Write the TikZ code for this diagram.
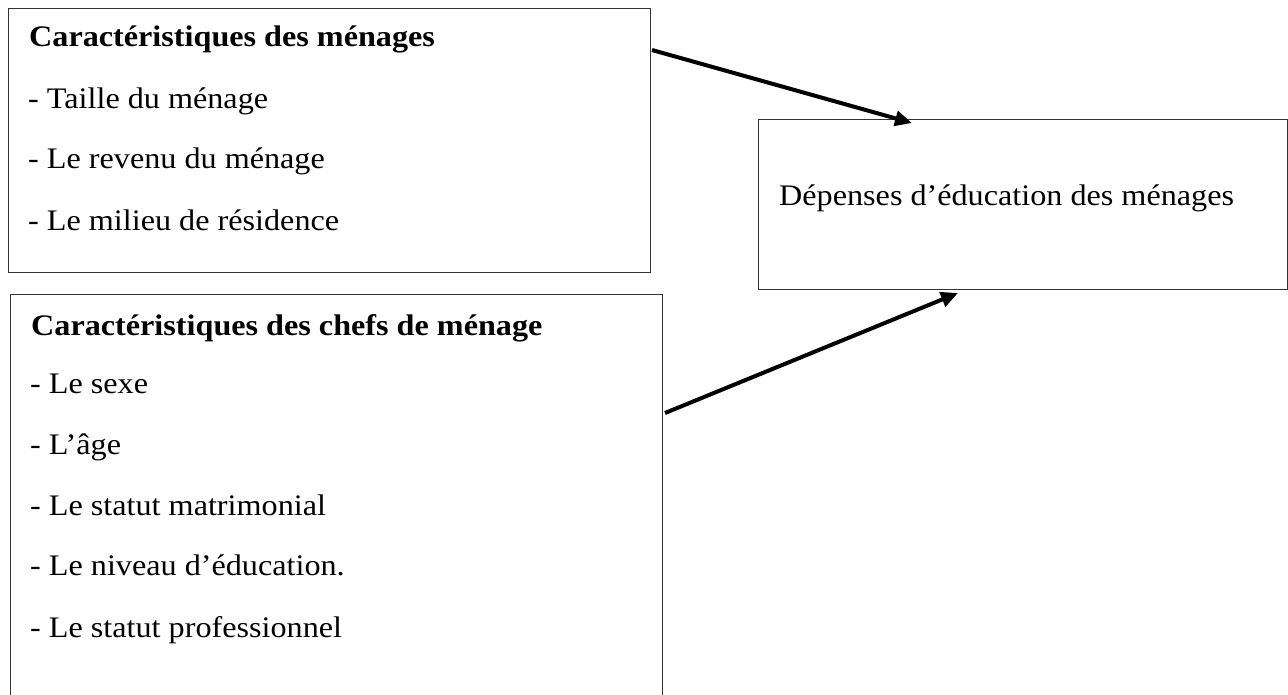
\documentclass[tikz,border=0pt]{standalone}
\usepackage{fontspec}
\setmainfont{Liberation Serif}[FakeStretch=1.08]
\usetikzlibrary{arrows.meta}
\begin{document}
\begin{tikzpicture}[x=1pt,y=-1pt,
  boxframe/.style={draw=black!80,line width=1.4pt,rectangle,inner sep=0pt,anchor=north west},
  txt/.style={anchor=base west,inner sep=0pt,font=\fontsize{29.8}{35}\selectfont},
  head/.style={txt,font=\fontsize{29.8}{35}\selectfont\bfseries},
  arr/.style={line width=4pt,-{Triangle[length=17pt,width=15pt]}}]
\useasboundingbox (0,0) rectangle (1288,694);
\clip (0,0) rectangle (1288,694);
% boxes
\node[boxframe,minimum width=642pt,minimum height=264pt] (box1) at (8,8) {};
\node[boxframe,minimum width=652pt,minimum height=420pt] (box2) at (10,294) {};
\node[boxframe,minimum width=529pt,minimum height=170pt] (box3) at (758,119) {};
% texts box 1
\node[head] (h1) at (29,46.5) {Caractéristiques des ménages};
\node[txt] (t11) at (28,108) {- Taille du ménage};
\node[txt] (t12) at (28,168.5) {- Le revenu du ménage};
\node[txt] (t13) at (28,230) {- Le milieu de résidence};
% texts box 2
\node[head] (h2) at (31,335) {Caractéristiques des chefs de ménage};
\node[txt] (t21) at (30,393) {- Le sexe};
\node[txt] (t22) at (30,454.5) {- L’âge};
\node[txt] (t23) at (30,515) {- Le statut matrimonial};
\node[txt] (t24) at (30,575) {- Le niveau d’éducation.};
\node[txt] (t25) at (30,637) {- Le statut professionnel};
% text box 3
\node[txt] (t3) at (779,205) {Dépenses d’éducation des ménages};
% arrows
\coordinate (a1s) at (652,50);
\coordinate (a1e) at (912,123);
\coordinate (a2s) at (665,413);
\coordinate (a2e) at (958,293);
\draw[arr] (a1s) -- (a1e);
\draw[arr] (a2s) -- (a2e);
\end{tikzpicture}
\end{document}
